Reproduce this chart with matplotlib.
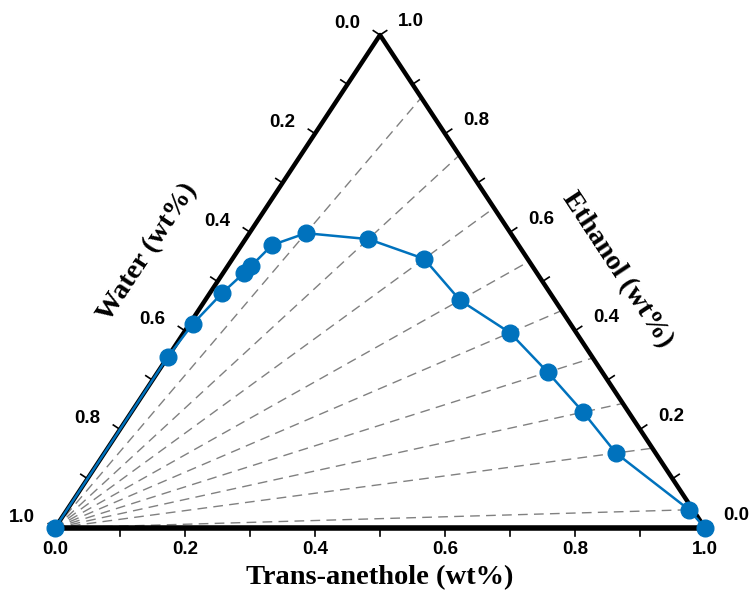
import numpy as np
import matplotlib
matplotlib.use("Agg")
import matplotlib.pyplot as plt

# composition of the measured points (mass fractions)
anethole = [0.0, 0.0, 0.005, 0.019, 0.032, 0.036, 0.047, 0.087, 0.189, 0.295,
            0.392, 0.502, 0.600, 0.695, 0.787, 0.957, 1.0]
ethanol = [0.0, 0.347, 0.414, 0.477, 0.517, 0.531, 0.574, 0.598, 0.586, 0.546,
           0.462, 0.396, 0.316, 0.235, 0.152, 0.037, 0.0]
water = [1 - a - e for a, e in zip(anethole, ethanol)]
# points that get a dashed line from the water corner
tie_points = [7, 8, 9, 10, 11, 12, 13, 14, 15]

tick_vals = [0.0, 0.1, 0.2, 0.3, 0.4, 0.5, 0.6, 0.7, 0.8, 0.9, 1.0]
label_vals = [0.0, 0.2, 0.4, 0.6, 0.8, 1.0]

blue = "#0072BD"
tick_font = dict(family="Liberation Sans", weight="bold", size=13.5)
title_font = dict(family="Liberation Serif", weight="bold", size=20.5)


def tern(a, e):
    a = np.asarray(a, dtype=float)
    e = np.asarray(e, dtype=float)
    return a + e / 2, e


fig = plt.figure(figsize=(7.51, 5.99), dpi=100)
ax = fig.add_axes([55 / 751, 71 / 599, 650 / 751, 493 / 599])
ax.set_xlim(0, 1)
ax.set_ylim(0, 1)
ax.axis("off")

# pixel size of the unit data box, to keep ticks perpendicular
W = 650.0
H = 493.0

# dashed lines from the water corner through the points to the opposite side
for i in tie_points:
    a, e = anethole[i], ethanol[i]
    x, y = tern([0, a / (a + e)], [0, e / (a + e)])
    ax.plot(x, y, color="#808080", lw=1.0, ls=(0, (7, 4.5)), zorder=1, clip_on=False)

# triangle
x, y = tern([0, 1, 0, 0], [0, 0, 1, 0])
ax.plot(x[:2], y[:2], color="black", lw=4.0, solid_capstyle="projecting", zorder=2, clip_on=False)
ax.plot(x[1:], y[1:], color="black", lw=3.2, solid_capstyle="projecting", zorder=2, clip_on=False)

# ticks
tl = 8.0
left_n = np.array([-H, W * 0.5]) / np.hypot(H, W * 0.5)
right_n = np.array([H, W * 0.5]) / np.hypot(H, W * 0.5)
for v in tick_vals:
    # bottom: trans-anethole
    bx, by = tern(v, 0)
    ax.plot([bx, bx], [by, by - tl / H], color="black", lw=1.2, clip_on=False, zorder=2)
    # left: water (ethanol = 1 - water)
    lx, ly = tern(0, 1 - v)
    ax.plot([lx, lx + left_n[0] * tl / W], [ly, ly + left_n[1] * tl / H],
            color="black", lw=1.2, clip_on=False, zorder=2)
    # right: ethanol
    rx, ry = tern(1 - v, v)
    ax.plot([rx, rx + right_n[0] * tl / W], [ry, ry + right_n[1] * tl / H],
            color="black", lw=1.2, clip_on=False, zorder=2)

for v in label_vals:
    bx, by = tern(v, 0)
    ax.annotate(f"{v:.1f}", (bx, by), xytext=(0, -22), textcoords="offset pixels",
                ha="center", va="center", **tick_font)
    lx, ly = tern(0, 1 - v)
    ax.annotate(f"{v:.1f}", (lx, ly), xytext=(-33, 11), textcoords="offset pixels",
                ha="center", va="center", **tick_font)
    rx, ry = tern(1 - v, v)
    ax.annotate(f"{v:.1f}", (rx, ry), xytext=(31, 13), textcoords="offset pixels",
                ha="center", va="center", **tick_font)

# data
px, py = tern(anethole, ethanol)
ax.plot(px, py, color=blue, lw=1.8, marker="o", ms=12, mfc=blue, mec=blue,
        zorder=3, clip_on=False)

# axis titles
ang = np.degrees(np.arctan2(H, W * 0.5))
mx, my = tern(0.5, 0)
ax.annotate("Trans-anethole (wt%)", (mx, my), xytext=(0, -50), textcoords="offset pixels",
            ha="center", va="center", **title_font)
mx, my = tern(0, 0.5)
ax.annotate("Water (wt%)", (mx, my), xytext=(-70, 29), textcoords="offset pixels",
            ha="center", va="center", rotation=ang, rotation_mode="anchor", **title_font)
mx, my = tern(0.5, 0.5)
ax.annotate("Ethanol (wt%)", (mx, my), xytext=(75, 12), textcoords="offset pixels",
            ha="center", va="center", rotation=-ang, rotation_mode="anchor", **title_font)

fig.savefig("out.png", dpi=100)
